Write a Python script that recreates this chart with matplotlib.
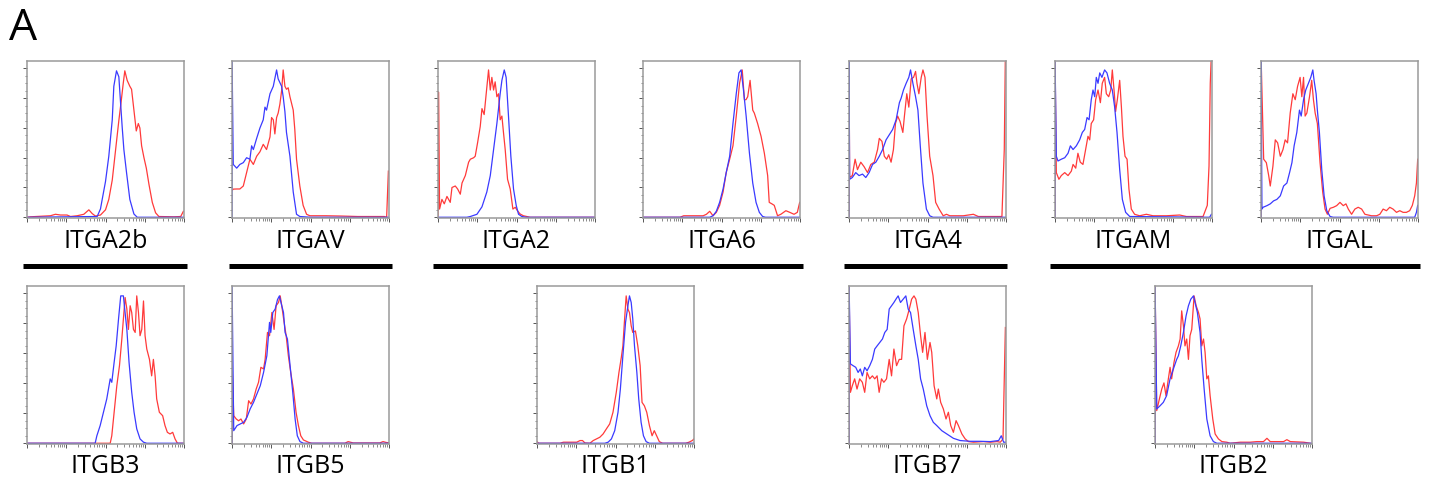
import matplotlib
matplotlib.use("Agg")
import matplotlib.pyplot as plt
from matplotlib.lines import Line2D
import numpy as np

plt.rcParams['font.family'] = ['Open Sans', 'DejaVu Sans']

# ---------------- data (x: 0-100 log-display units, y: % of max) ----------------
itga2b_blue_x = [0, 44.7, 46.8, 47.9, 50, 52.1, 54.3, 55.3, 57, 58.5, 60.6, 61.7, 63.4, 65.5, 68.1, 70.2, 100]
itga2b_blue_y = [0, 0.5, 5.6, 12, 24, 41, 65.5, 88, 98.4, 94.4, 61, 45.5, 30, 12, 2.2, 0, 0]
itga2b_red_x = [0, 2.1, 14.9, 18.1, 21.3, 25.5, 27.7, 31.9, 36.2, 39.4, 41.5, 43.6, 46.8, 50, 52.1, 54.3, 56.4,
                58.5, 60, 61.3, 62.3, 63.8, 65.5, 66.6, 68.1, 69.6, 70.9, 71.9, 73, 74.5, 76, 77.7, 79.8, 81.9,
                84, 93.6, 97.9, 99.6]
itga2b_red_y = [0, 0.3, 1, 2, 1.5, 1.5, 0.5, 1, 2, 5, 2.5, 0.8, 1.5, 5, 12, 25, 45, 65, 78, 90, 98.4, 92, 88, 86,
                72, 58, 63, 60, 48, 40, 33, 22, 10, 3, 0.5, 0.3, 0.5, 4]

itgav_blue_x = [0, 0, 0.8, 3, 5, 7.2, 9.3, 11.4, 12.5, 13.6, 15.7, 17.8, 19.9, 21, 22, 24.2, 26.3, 28.4, 29.4,
                31.6, 32.6, 33.7, 34.7, 36.9, 39, 41.1, 43.2, 50, 100]
itgav_blue_y = [0, 110, 35.5, 33, 35.5, 36.7, 40, 39, 48, 45.5, 53, 60, 65.5, 74, 72, 83, 88, 99, 93, 88, 81, 71,
                57, 41, 17, 2, 0.5, 0, 0]
itgav_red_x = [0, 0.8, 3, 5, 7.2, 9.3, 11.4, 13.6, 15.7, 17.8, 19.9, 22, 24.2, 25.2, 26.3, 27.3, 28.4, 29.4, 30.5,
               31.6, 32.6, 33.7, 34.7, 35.8, 36.9, 39, 40, 41.1, 43.2, 45.3, 47.5, 49.6, 60, 70, 80, 97, 98.5, 99.6]
itgav_red_y = [18, 18.9, 19, 19, 21, 30, 39, 35.5, 41, 44, 49, 45.5, 54, 67, 65.5, 56, 67, 70, 76, 85, 99, 88, 86,
               87, 81, 72, 59, 39, 21, 8, 2, 1, 1, 0.8, 0.5, 0.5, 0, 31]

itga2_blue_x = [0, 18.4, 20.6, 24.8, 28, 31.1, 33.3, 35.4, 37.5, 39.6, 40.7, 42.2, 43.4, 44.9, 46.4, 48.1, 49.8,
                51.3, 53.4, 56, 100]
itga2_blue_y = [0, 0, 0.5, 2, 7, 17, 28, 45.5, 63, 83, 92, 99, 94, 68, 41, 19, 8, 2, 0.5, 0, 0]
itga2_red_x = [0, 0, 0.4, 1, 2.5, 4, 5.7, 7.8, 8.9, 11, 12.5, 14.2, 15.3, 17.4, 19.5, 20.6, 22.7, 23.7, 25.2, 26.9,
               28, 29.4, 30.7, 32.2, 33.3, 34.3, 35.4, 36.4, 37.5, 38.6, 39.6, 40.7, 41.7, 42.8, 44.3, 46, 47.7,
               49.2, 50.6, 52.3, 54.4, 58.7, 100]
itga2_red_y = [0, 84, 84, 5.5, 12, 9, 14, 10, 20, 21, 19, 15.5, 23, 28, 37, 39, 40, 41, 50, 61, 73, 69, 83, 99,
               85.5, 94, 85.5, 91, 81, 83, 65.5, 68, 57, 45.5, 25.5, 19, 5.5, 6.7, 4.4, 2.2, 1, 0, 0]

itga6_blue_x = [0, 42.5, 44.6, 46.7, 48.8, 51, 53, 55.2, 57.3, 59.4, 61.1, 62.5, 64, 65.7, 67.8, 69.9, 72, 74.1,
                76.2, 78, 100]
itga6_blue_y = [0, 0, 1, 4, 10, 19, 30, 41, 63, 83, 97, 99, 85.5, 68, 43, 23, 10, 3.3, 0.5, 0, 0]
itga6_red_x = [0, 23.6, 25.9, 30, 38.3, 40.4, 42.5, 44.6, 46.7, 48.8, 51, 53, 55.2, 57.3, 59.4, 61.5, 63.2, 64.6,
               65.6, 66.7, 68.2, 69.9, 70.9, 73, 75.2, 77.3, 79.4, 80.4, 82.1, 83.6, 85.7, 87.8, 91, 93.5, 96.2,
               98.3, 99.8]
itga6_red_y = [0, 0, 1, 1, 1, 2, 4, 1, 3.3, 8, 17, 30, 39, 48, 68, 90, 99, 79, 79, 81, 92, 72, 70, 63, 54.4, 43,
               28, 10, 9, 8, 1, 2, 4.4, 3.3, 2, 3.3, 10]

itga4_blue_x = [0, 0, 0.4, 2.1, 4.3, 6.4, 8.6, 10.7, 12.8, 15, 17.1, 19.3, 21.4, 23.6, 25.7, 27.8, 30, 32.1, 33.2,
                34.7, 36.4, 38.1, 39.2, 40.7, 42.4, 43.9, 45.4, 47.1, 49.3, 51.4, 53.5, 100]
itga4_blue_y = [0, 110, 25.5, 26.7, 30, 28, 29, 26.7, 30, 35.5, 37, 41, 45.5, 52, 55.5, 59, 65.5, 77, 80, 85.5,
                90, 94, 99, 90, 81, 72, 48, 23, 5.5, 1, 0, 0]
itga4_red_x = [0, 0, 0.4, 2.1, 3.9, 5.4, 7.5, 9.6, 11.8, 13.9, 16.1, 18.2, 19.3, 21, 22.5, 24, 25.3, 26.8, 28.3,
               29.6, 31, 32.5, 34.3, 35.3, 36.8, 38.1, 39.6, 41.1, 42.4, 43.3, 44.5, 46, 47.1, 48.4, 49.7, 51.4,
               53.5, 55.2, 57.4, 60, 62.1, 64.2, 68.5, 72.8, 79.2, 82.4, 97.4, 98.9, 99.6]
itga4_red_y = [0, 110, 26.7, 28, 39, 32, 37, 34, 30, 35.5, 37, 45.5, 53, 51, 41, 39, 42, 37, 45.5, 63, 68, 64.4,
               57, 68, 83, 74, 93, 94, 98, 90, 83, 94, 99, 94, 68, 41, 28, 10, 5.5, 1, 2, 1, 1, 1, 2, 0.5, 0.5,
               45.5, 110]

itgam_blue_x = [0, 0, 0.85, 1.9, 4, 6.2, 8.3, 9.8, 11.5, 13.6, 15.7, 17.4, 18.9, 20.4, 21.7, 23.1, 24.2, 25.3,
                26.3, 27.4, 28.5, 29.9, 31.6, 33.1, 34.8, 36.5, 38, 39.5, 41.2, 42.9, 45, 47.6, 98.5, 99.6]
itgam_blue_y = [0, 110, 41, 37.8, 39, 40, 43, 48, 45.5, 48, 52, 57, 59, 67, 65.5, 79, 85.5, 81, 94, 90, 97, 94,
                99, 97, 90, 85.5, 74, 57, 32, 12, 3.3, 0.5, 0, 2]
itgam_red_x = [0, 0, 0.85, 2.5, 4, 6.2, 8.3, 10.4, 11.5, 13.2, 14.6, 16.1, 17.8, 19.5, 21, 22.1, 23.1, 24.6, 25.9,
               27.4, 28.9, 30.1, 31.6, 32.7, 34.2, 35.5, 36.5, 37.8, 38.6, 39.7, 41.2, 42.3, 43.3, 44.6, 45.9,
               47.1, 48.6, 50.7, 53.9, 58.2, 62.4, 70.9, 79.4, 83.7, 94.3, 97, 98.1, 98.9, 99.6]
itgam_red_y = [0, 110, 30, 25.5, 28, 30, 28, 31, 35.5, 33, 43, 37, 35.5, 45.5, 54.4, 52, 63, 65.5, 79, 85.5, 77,
               90, 94, 83, 81, 85.5, 99, 83, 71, 79, 92, 74, 54.4, 41, 39, 19, 5.5, 2, 1, 2, 1, 1, 1.5, 0.5, 0.5,
               8, 34.4, 90, 110]

itgal_blue_x = [0, 0, 0.6, 1.3, 3.8, 5.9, 8, 10.1, 12.3, 14.4, 16.5, 18.2, 19.7, 21.1, 22.8, 24.5, 25.6, 27.1,
                28.5, 30.2, 31.7, 33, 33.8, 35.1, 35.9, 37.2, 38.7, 40.2, 41.9, 44, 46, 97.9, 99, 99.8]
itgal_blue_y = [0, 110, 5.5, 6.7, 7.8, 9, 11, 12, 14.4, 21, 23, 30, 36.7, 48, 57, 72, 68, 79, 85.5, 90, 94, 99,
                92, 83, 72, 57, 32, 14.4, 4.4, 0.5, 0, 0, 3.3, 8]
itgal_red_x = [0, 0, 1.7, 3.4, 4.9, 5.9, 7.6, 9.1, 10.6, 12.3, 14, 15.4, 16.9, 18.6, 20.3, 21.8, 23.3, 24.9, 26,
               27.1, 28.1, 29.2, 30.9, 32.3, 33.4, 34.5, 35.9, 37.6, 39.3, 40.8, 42.3, 44, 46.1, 48.2, 50.3, 52.4,
               54.1, 55.6, 57.7, 59.8, 61.9, 64.1, 66.2, 68.3, 70.4, 73.6, 75.7, 77.8, 79.9, 82, 84.1, 86.3, 88.4,
               90.5, 92.6, 94.7, 96.4, 97.9, 99, 99.8]
itgal_red_y = [0, 110, 39, 36.7, 28, 21, 34.4, 52, 50, 41, 45.5, 52, 50, 70, 83, 79, 88, 94, 81, 94, 68, 70, 81,
               92, 79, 70, 63, 36.7, 17, 5.5, 2, 6, 6.7, 7.8, 10, 7.8, 9, 5.5, 2, 5.5, 6.7, 5.5, 2, 1.5, 1, 1, 2,
               5.5, 4.4, 6.7, 5.5, 3.3, 4.4, 3.3, 3.3, 4.4, 8, 14.4, 23, 39]

itgb3_blue_x = [0, 43.4, 44.5, 46.6, 48.7, 50.8, 53, 54, 55.5, 56.8, 58.3, 59.7, 61.4, 62.5, 63.6, 65, 66.7, 68.2,
                69.9, 72, 74.2, 76.3, 100]
itgb3_blue_y = [0, 0, 5, 11.8, 20.7, 29.6, 43, 40.7, 54, 65, 83, 98.4, 98.4, 87, 76, 54, 34, 20.7, 9.6, 2.9, 0.7,
                0, 0]
itgb3_red_x = [0, 53, 54, 55.5, 57.2, 58.9, 60.4, 61.4, 62.5, 63.6, 64.6, 65.7, 66.7, 67.8, 68.9, 69.9, 71, 72,
               73.1, 74.2, 75.2, 76.3, 78, 79.4, 80.5, 81.6, 82.6, 84.3, 86.4, 87.9, 89.4, 91.1, 92.8, 94.3, 95.8,
               100]
itgb3_red_y = [0, 0, 5, 20.7, 38.4, 51.8, 69.6, 83, 97.3, 89.6, 76, 91.8, 87.3, 76, 74, 98.4, 87.3, 71.8, 76, 95,
               71.8, 62.9, 56, 45, 56, 45, 29.6, 20.7, 18.4, 11.8, 7.3, 6.2, 7.3, 2.9, 0, 0]

itgb5_blue_x = [0, 0, 1.1, 3.2, 5.3, 7.4, 9.5, 11.6, 13.7, 15.9, 18, 20.1, 22.2, 23.9, 24.7, 26, 27.5, 29, 30.2,
                31.7, 32.8, 33.8, 35.3, 37, 38.7, 40.2, 41.6, 43.3, 45.5, 100]
itgb5_blue_y = [0, 110, 8.4, 11.8, 12.9, 14, 17.3, 23, 27.3, 33, 38.4, 47.3, 58.4, 80.7, 74, 87.3, 89.6, 96,
                98.4, 91.8, 87.3, 74, 69.6, 51.8, 34, 16.2, 5, 1.1, 0, 0]
itgb5_red_x = [0, 0, 1.1, 2.7, 4.2, 5.7, 7.4, 9.1, 10.6, 12.1, 13.7, 15.4, 16.9, 18.4, 20.1, 21.1, 22.6, 23.9,
               25.4, 26.8, 28.1, 29.6, 30.7, 31.7, 33.2, 34.5, 35.9, 37.4, 39.1, 40.8, 42.3, 43.8, 45.5, 48.6,
               50.7, 71.9, 74, 77.2, 94.1, 96.2, 98.3, 100]
itgb5_red_y = [0, 54, 18.4, 16.2, 15, 16.2, 12.9, 16.2, 28.4, 26.2, 29.6, 36.2, 40.7, 50.7, 49.6, 56, 74, 71.8,
               87.3, 76, 91.8, 94, 98.4, 91.8, 80.7, 71.8, 58.4, 47.3, 36.2, 20.7, 11.8, 5, 2.2, 0.7, 0, 0, 1.1,
               0.2, 0.2, 1.1, 0.5, 0.3]

itgb1_blue_x = [0, 43.2, 45.3, 47.4, 49.5, 51.6, 53.1, 54.7, 56.4, 57.9, 58.9, 60, 61, 62.1, 63.6, 64.8, 66.3,
                67.8, 69.5, 71.6, 100]
itgb1_blue_y = [0, 0, 0.7, 2.9, 8.4, 20.7, 36.2, 58.4, 80.7, 91.8, 98.4, 94, 83, 65, 47.3, 29.6, 14, 5, 1.1, 0, 0]
itgb1_red_x = [0, 1, 14.7, 16.8, 21, 25.3, 27.4, 29, 30.5, 33.7, 35.8, 37.9, 40, 42.1, 44.2, 46.3, 48.4, 50.5,
               52.2, 53.7, 54.7, 55.8, 56.8, 57.9, 58.9, 60, 61, 62.7, 64.2, 65.7, 66.9, 68.4, 69.9, 71.6, 73.3,
               74.7, 76.2, 77.9, 80, 94.7, 96.8, 98.9, 100]
itgb1_red_y = [1.1, 0, 0, 0.7, 0.7, 0.7, 1.8, 1.8, 0.2, 0, 1.8, 2.9, 4, 6.2, 9.6, 12.9, 20.7, 34, 47.3, 57.3, 65,
               83, 98.4, 89.6, 87.3, 78.4, 74, 75, 65, 51.8, 27.3, 25, 20.7, 11.8, 5, 8.4, 5, 1.1, 0, 0, 0.7, 1.8,
               2.9]

itgb7_blue_x = [0, 0, 0.9, 2.6, 4.3, 5.8, 7.2, 8.5, 10, 11.5, 13.2, 14.9, 16.4, 17.9, 19.6, 21.3, 22.8, 24.3,
                25.6, 27.1, 28.6, 29.9, 31.3, 32.8, 34.5, 36.2, 37.7, 39.2, 40.9, 42.6, 44.1, 45.6, 47.3, 49.5,
                51.6, 53.7, 55.9, 59.1, 62.3, 66.5, 70.8, 77.2, 83.6, 90, 95.3, 97, 98.5, 100]
itgb7_blue_y = [0, 110, 53, 51.8, 50.7, 47.3, 49.6, 45, 50.7, 48.4, 51.8, 56, 62.9, 65, 67.3, 69.6, 74, 76, 89.6,
                91.8, 94, 96.2, 98.4, 94, 96.2, 98.4, 89.6, 87.3, 76, 65, 56, 43, 36.2, 25, 18.4, 14, 11.8, 8.4,
                6.2, 3.3, 1.8, 1.3, 1.3, 1.1, 1.8, 5, 0.7, 0.7]
itgb7_red_x = [0, 0, 0.9, 2.1, 3.6, 5.1, 6.8, 8.5, 10, 11.5, 13.2, 14.9, 16.4, 17.9, 19.2, 20.7, 22.2, 23.9, 25.6,
               27.1, 28.6, 30.3, 32, 33.5, 35, 36.7, 38.4, 39.9, 41.4, 42.6, 44.1, 45.6, 46.9, 48.4, 49.9, 51.6,
               52.7, 54.2, 55.9, 56.9, 58.4, 60.1, 61.8, 63.3, 64.8, 66.5, 68.2, 69.7, 71.9, 74, 76.1, 79.3, 85.7,
               90, 94.2, 96.4, 98.1, 98.9, 99.6]
itgb7_red_y = [0, 110, 34, 38.4, 43, 36.2, 43, 40.7, 34, 47.3, 43, 45, 43, 45, 34, 43, 40.7, 43, 56, 45, 62.9,
               51.8, 56, 56, 78.4, 83, 89.6, 96.2, 98.4, 96.2, 87.3, 71.8, 60.7, 74, 56, 67.3, 60.7, 38.4, 29.6,
               36.2, 27.3, 22.9, 16.2, 20.7, 11.8, 7.3, 15.1, 11.8, 6.2, 2.9, 1.1, 0.7, 1.1, 0.7, 1.1, 0.7, 2.9, 43,
               77.3]

itgb2_blue_x = [0, 0, 1.1, 3.2, 5.3, 7.4, 9.6, 11.7, 13.8, 14.9, 16.4, 18.1, 19.8, 21.3, 22.8, 24.5, 25.5, 27,
                28.7, 29.8, 31.3, 33, 35.1, 37.2, 39.4, 100]
itgb2_blue_y = [0, 110, 22.9, 25, 27.3, 31.8, 43, 49.6, 56, 58.4, 65, 74, 85.1, 91.8, 96.2, 98.4, 94, 87.3, 74,
                56, 36.2, 16.2, 5, 1.1, 0, 0]
itgb2_red_x = [0, 0, 1.1, 2.8, 4.3, 5.7, 7, 8.5, 9.6, 10.6, 12.1, 13.4, 14.9, 16, 17, 18.1, 19.1, 20.2, 21.3,
               22.3, 23.4, 24.9, 26.2, 27.7, 28.7, 29.8, 30.9, 31.9, 33, 34, 35.1, 36.8, 38.3, 40.4, 42.6, 45.7,
               47.9, 54.3, 60.6, 64.9, 69.1, 71.3, 73.4, 81.9, 84, 86.2, 94.7, 98.9]
itgb2_red_y = [0, 110, 21.8, 29.6, 36.2, 40.3, 31.8, 43, 50.7, 43, 54, 60.7, 65, 69.6, 88.4, 78.4, 65, 69.6, 56,
               71.8, 76, 98.4, 91.8, 87.3, 83, 65, 69.6, 60.7, 43, 45, 31.8, 16.2, 6.2, 2.9, 1.1, 0.7, 0, 0.7, 0.7,
               1.1, 1.1, 3.3, 1.1, 1.1, 2.4, 1.1, 0.7, 0]

top_labels = ['ITGA2b', 'ITGAV', 'ITGA2', 'ITGA6', 'ITGA4', 'ITGAM', 'ITGAL']
bottom_labels = ['ITGB3', 'ITGB5', 'ITGB1', 'ITGB7', 'ITGB2']

# ---------------- layout (pixels) ----------------
W, H = 1429, 482
fig = plt.figure(figsize=(W / 100, H / 100), dpi=100)

top_lefts = [27, 232, 438, 643, 849, 1055, 1261]
bottom_lefts = [27, 232, 537, 849, 1155]
AX_W = 157

series = {
    'ITGA2b': (itga2b_blue_x, itga2b_blue_y, itga2b_red_x, itga2b_red_y),
    'ITGAV': (itgav_blue_x, itgav_blue_y, itgav_red_x, itgav_red_y),
    'ITGA2': (itga2_blue_x, itga2_blue_y, itga2_red_x, itga2_red_y),
    'ITGA6': (itga6_blue_x, itga6_blue_y, itga6_red_x, itga6_red_y),
    'ITGA4': (itga4_blue_x, itga4_blue_y, itga4_red_x, itga4_red_y),
    'ITGAM': (itgam_blue_x, itgam_blue_y, itgam_red_x, itgam_red_y),
    'ITGAL': (itgal_blue_x, itgal_blue_y, itgal_red_x, itgal_red_y),
    'ITGB3': (itgb3_blue_x, itgb3_blue_y, itgb3_red_x, itgb3_red_y),
    'ITGB5': (itgb5_blue_x, itgb5_blue_y, itgb5_red_x, itgb5_red_y),
    'ITGB1': (itgb1_blue_x, itgb1_blue_y, itgb1_red_x, itgb1_red_y),
    'ITGB7': (itgb7_blue_x, itgb7_blue_y, itgb7_red_x, itgb7_red_y),
    'ITGB2': (itgb2_blue_x, itgb2_blue_y, itgb2_red_x, itgb2_red_y),
}

BLUE = '#3a3aff'
RED = '#ff3a3a'
SPINE = '#9a9a9a'

major_x = [0, 25, 50, 75, 100]
minor_x = [d * 25 + 25 * np.log10(k) for d in range(4) for k in range(2, 10)]


def make_panel(name, left, top, h, label_base):
    ax = fig.add_axes([left / W, 1 - (top + h) / H, AX_W / W, h / H])
    bx, by, rx, ry = series[name]
    ax.plot(rx, ry, color=RED, lw=0.9, solid_joinstyle='round')
    ax.plot(bx, by, color=BLUE, lw=0.9, solid_joinstyle='round')
    ax.set_xlim(0, 100)
    ax.set_ylim(-0.5, 105)
    ax.set_xticks(major_x)
    ax.set_xticks(minor_x, minor=True)
    ax.set_yticks(np.arange(0, 101, 20))
    ax.set_yticks(np.arange(0, 101, 5), minor=True)
    ax.set_xticklabels([])
    ax.set_yticklabels([])
    ax.tick_params(which='major', direction='out', length=3, width=0.7, color='#555555')
    ax.tick_params(which='minor', direction='out', length=1.8, width=0.6, color='#777777')
    for s in ax.spines.values():
        s.set_color(SPINE)
        s.set_linewidth(1.1)
    fig.text((left + AX_W / 2) / W, 1 - label_base / H, name, ha='center', va='baseline',
             fontsize=18, color='black')


for name, left in zip(top_labels, top_lefts):
    make_panel(name, left, 61, 157, 248)
for name, left in zip(bottom_labels, bottom_lefts):
    make_panel(name, left, 286, 158, 473)

# group separator bars
group_spans = [(23, 187), (229, 392), (433, 803), (844, 1007), (1050, 1420)]
for x0, x1 in group_spans:
    fig.add_artist(Line2D([x0 / W, x1 / W], [1 - 265.5 / H, 1 - 265.5 / H], color='black', lw=3.6,
                          solid_capstyle='butt', transform=fig.transFigure))

fig.text(9 / W, 1 - 40 / H, 'A', ha='left', va='baseline', fontsize=32, color='black')

fig.savefig('out.png', dpi=100)
